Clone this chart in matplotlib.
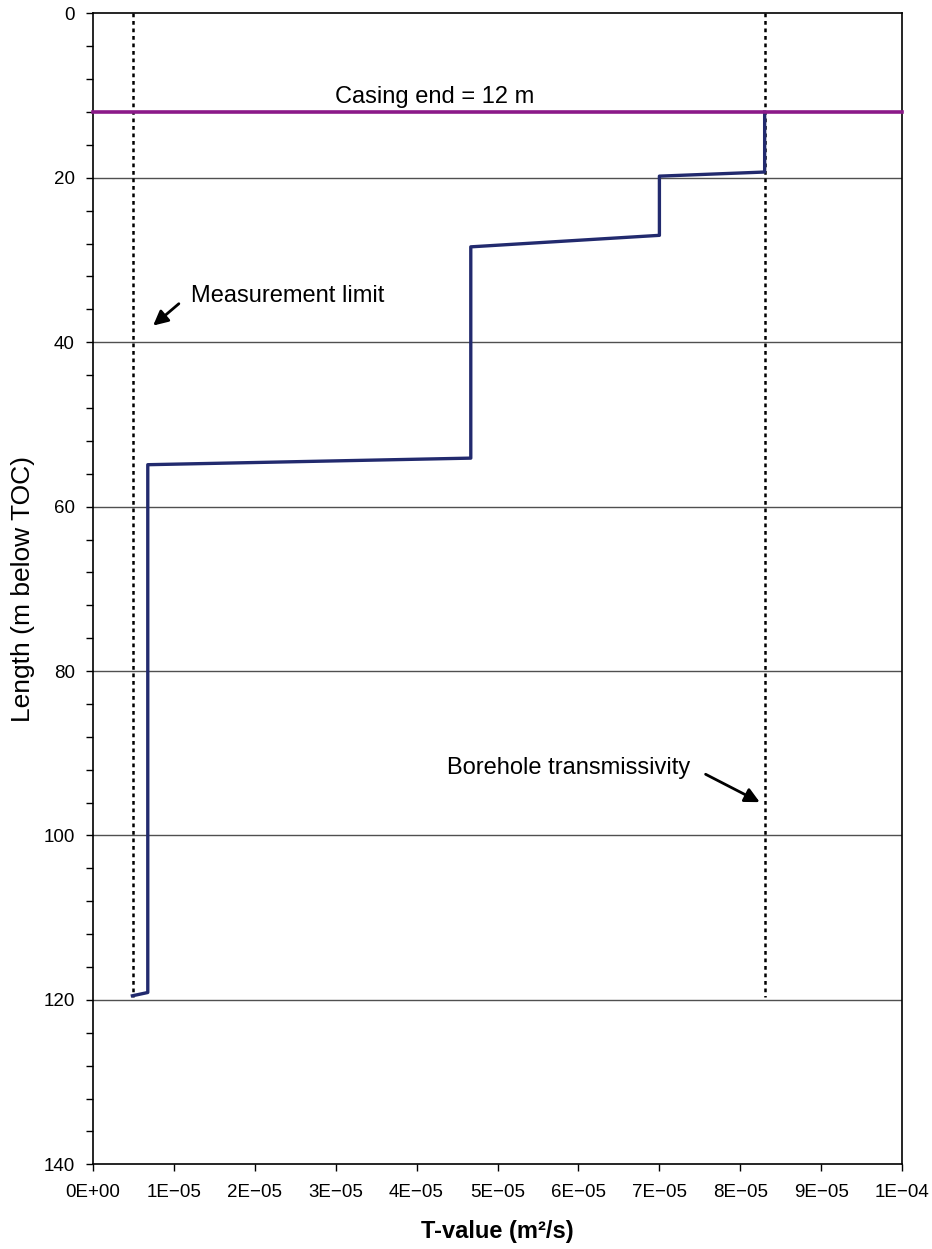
import numpy as np
from matplotlib import pyplot as plt

plt.rcParams['font.family'] = ['Liberation Sans', 'DejaVu Sans']

# Step profile of T-value vs. borehole length
t_value = [8.30e-5, 8.30e-5, 7.00e-5, 7.00e-5, 4.67e-5, 4.67e-5, 0.68e-5, 0.68e-5, 0.49e-5]
length  = [12.0,    19.3,    19.8,    27.0,    28.4,    54.1,    54.9,    119.1,   119.5]

casing_end   = 12.0      # m
meas_limit   = 5.0e-6    # m^2/s
borehole_t   = 8.30e-5   # m^2/s
dotted_depth = [0.0, 119.6]

x_ticks = [i * 1e-5 for i in range(11)]
x_tick_labels = ["0E+00", "1E\u221205", "2E\u221205", "3E\u221205", "4E\u221205", "5E\u221205",
                 "6E\u221205", "7E\u221205", "8E\u221205", "9E\u221205", "1E\u221204"]
y_major = list(range(0, 141, 20))
y_minor = list(range(0, 141, 4))

fig = plt.figure(figsize=(9.32, 12.49), dpi=100)
ax = fig.add_axes([0.0995, 0.0678, 0.8686, 0.9215])

# grid lines at the major depths
for y in y_major[1:-1]:
    ax.axhline(y, color='#505050', lw=1.0, zorder=1)

# measurement limit & borehole transmissivity
dots = (0, (1.5, 1.5))
ax.plot([meas_limit, meas_limit], dotted_depth, color='black', lw=1.8, linestyle=dots, zorder=2)
ax.plot([borehole_t, borehole_t], dotted_depth, color='black', lw=1.8, linestyle=dots, zorder=2)

ax.plot(t_value, length, color='#222a6e', lw=2.4, zorder=3)
ax.axhline(casing_end, color='#8b1a89', lw=2.6, zorder=4, clip_on=False)

ax.text(4.22e-5, 10.9, "Casing end = 12 m", fontsize=17, ha='center', va='baseline')
ax.text(1.22e-5, 34.4, "Measurement limit", fontsize=17, ha='left', va='center')
ax.annotate("", xy=(0.72e-5, 38.2), xytext=(1.09e-5, 35.1),
            arrowprops=dict(arrowstyle='-|>', color='black', lw=2, mutation_scale=22))
ax.text(7.38e-5, 91.8, "Borehole transmissivity", fontsize=17, ha='right', va='center')
ax.annotate("", xy=(8.27e-5, 96.1), xytext=(7.54e-5, 92.4),
            arrowprops=dict(arrowstyle='-|>', color='black', lw=2, mutation_scale=22))

ax.set_xlim(0, 1e-4)
ax.set_ylim(140, 0)
ax.set_xticks(x_ticks)
ax.set_xticklabels(x_tick_labels)
ax.set_yticks(y_major)
ax.set_yticks(y_minor, minor=True)
ax.tick_params(axis='both', which='both', direction='out', length=5, width=1, labelsize=13.5)
ax.tick_params(axis='x', pad=9)
ax.tick_params(axis='y', pad=8)

for sp in ax.spines.values():
    sp.set_linewidth(1.2)
    sp.set_color('black')

ax.set_xlabel("T-value (m\u00b2/s)", fontsize=17, fontweight='bold', labelpad=14)
ax.set_ylabel("Length (m below TOC)", fontsize=19)
ax.yaxis.set_label_coords(-0.071, 0.5)

fig.savefig("out.png", dpi=100)
